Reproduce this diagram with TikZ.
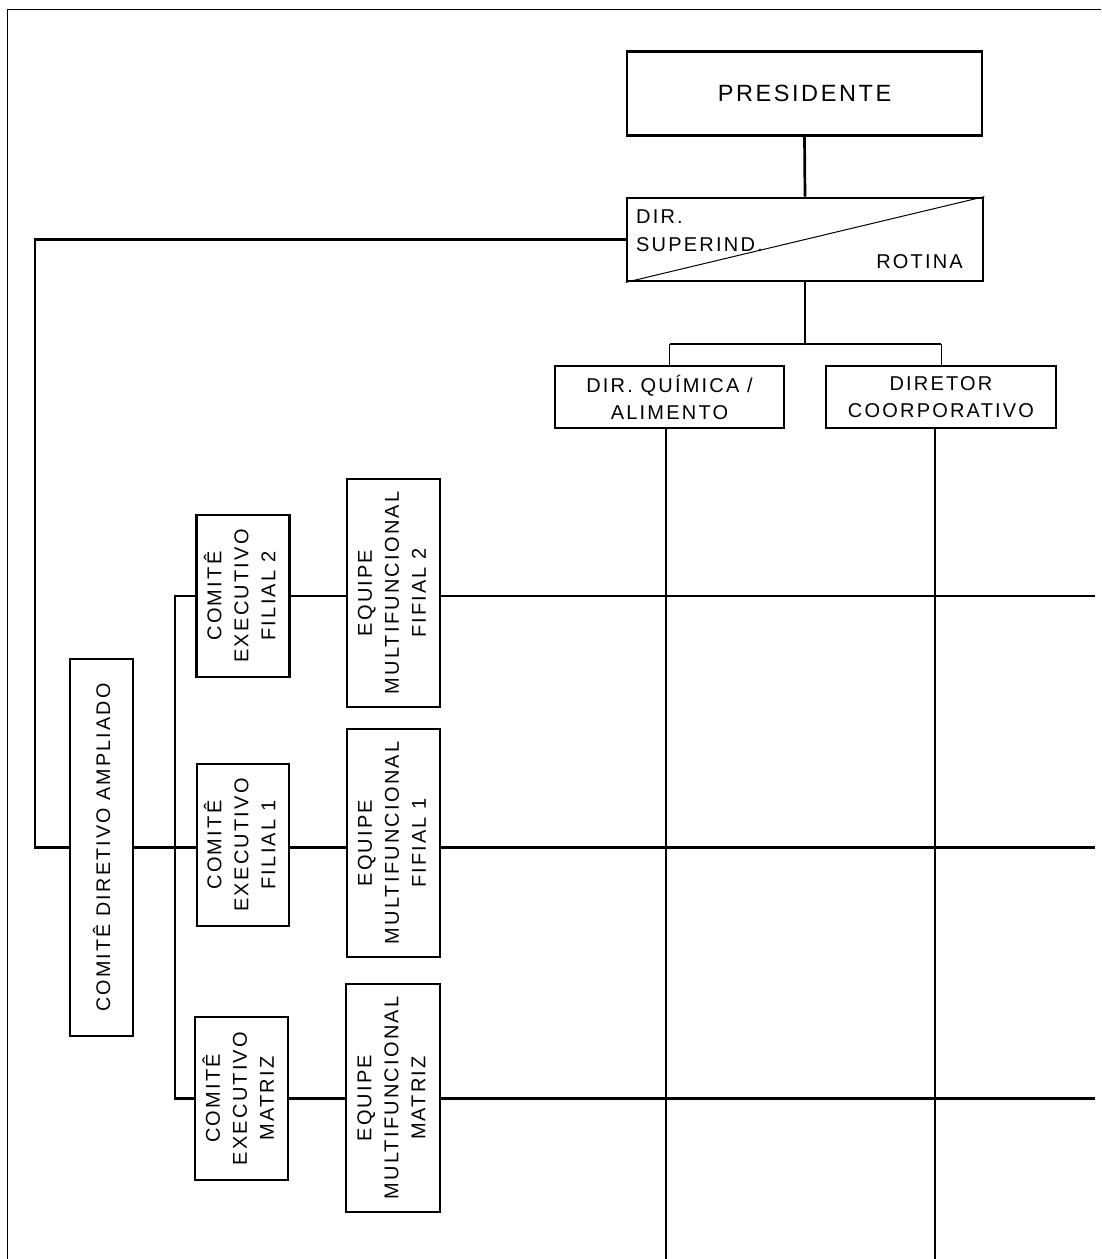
\documentclass[tikz,border=0pt]{standalone}
\usepackage{fontspec}
\setmainfont{Liberation Sans}[LetterSpace=11]
\usetikzlibrary{calc}

% text sizes used in the chart
\newcommand\chartfont{\fontsize{20}{27}\selectfont}
\newcommand\bigchartfont{\fontsize{23.5}{28}\selectfont}
% three stacked lines turned to read upwards
\newcommand\upstack[3]{\rotatebox{90}{\begin{tabular}{@{}c@{}}#1\\#2\\#3\end{tabular}}}

\begin{document}
\begin{tikzpicture}[x=1pt,y=-1pt,
  box/.style={draw, line width=2.7pt, fill=white, inner sep=0pt, align=center, font=\chartfont},
  link/.style={line width=2.7pt},
  thinlink/.style={line width=1pt},
  label/.style={inner sep=0pt, font=\chartfont}]
\useasboundingbox (0,0) rectangle (1101,1259);

% page frame
\draw[line width=1pt] (7,1259) -- (7,9) -- (1101,9);

% helper coordinates for free line ends
\coordinate (leftx) at (35,0);
\coordinate (busx) at (175,0);
\coordinate (rightx) at (1095,0);
\coordinate (bottom) at (0,1259);
\coordinate (split) at (805,344);

% top of the hierarchy
\node[box, minimum width=355pt, minimum height=84pt, font=\bigchartfont] (pres) at (804.5,93.5) {PRESIDENTE};
\node[box, minimum width=356pt, minimum height=83pt] (sup) at (805,239.5) {};
\draw[thinlink] (sup.south west) -- (sup.north east);
\node[label, anchor=base west, align=left, font=\fontsize{20}{28}\selectfont] (supname) at (636,251) {DIR.\\SUPERIND.};
\node[label, anchor=base east] (rotina) at (963,268) {ROTINA};

\node[box, minimum width=229pt, minimum height=62pt] (quim) at (669.5,397) {DIR. QUÍMICA /\\ALIMENTO};
\node[box, minimum width=230pt, minimum height=62pt] (corp) at (941,397) {DIRETOR\\COORPORATIVO};

% committees and teams
\node[box, minimum width=63pt, minimum height=377pt, font=\fontsize{19.7}{27}\selectfont] (cda) at (101.5,847.5) {\rotatebox{90}{COMITÊ DIRETIVO AMPLIADO}};

\node[box, minimum width=93pt, minimum height=162pt] (ce2) at (243,596) {\upstack{COMITÊ}{EXECUTIVO}{FILIAL 2}};
\node[box, minimum width=92pt, minimum height=162pt] (ce1) at (243,845) {\upstack{COMITÊ}{EXECUTIVO}{FILIAL 1}};
\node[box, minimum width=93pt, minimum height=163pt] (cem) at (241.5,1098.5) {\upstack{COMITÊ}{EXECUTIVO}{MATRIZ}};

\node[box, minimum width=93pt, minimum height=228pt] (eq2) at (393.5,593) {\upstack{EQUIPE}{MULTIFUNCIONAL}{FIFIAL 2}};
\node[box, minimum width=93pt, minimum height=228pt] (eq1) at (393.5,843) {\upstack{EQUIPE}{MULTIFUNCIONAL}{FIFIAL 1}};
\node[box, minimum width=94pt, minimum height=228pt] (eqm) at (393,1098) {\upstack{EQUIPE}{MULTIFUNCIONAL}{MATRIZ}};

% connectors in the upper part
\draw[link] (pres.south) -- (sup.north);
\draw[link] (sup.south) -- (split);
\draw[link] (split -| quim.north) -- (split -| corp.north);
\draw[thinlink] (split -| quim.north) -- (quim.north);
\draw[thinlink] (split -| corp.north) -- (corp.north);
\draw[link] ([xshift=-3.5pt]quim.south) -- ([xshift=-3.5pt]quim.south |- bottom);
\draw[link] ([xshift=-6pt]corp.south) -- ([xshift=-6pt]corp.south |- bottom);

% loop from the superintendent to the extended committee
\draw[link] (sup.west) -- (sup.west -| leftx) -- (leftx |- cda.west) -- (cda.west);

% committee bus
\draw[link] (cda.east) -- (ce1.west |- cda.east);
\draw[link] (ce2.west) -- (ce2.west -| busx) -- (busx |- cem.west) -- (cem.west);

% committees to teams, teams across the matrix
\draw[link] (ce2.east) -- (eq2.west |- ce2.east);
\draw[link] (ce1.east |- cda.east) -- (eq1.west |- cda.east);
\draw[link] (cem.east) -- (eqm.west |- cem.east);
\draw[link] (eq2.east |- ce2.east) -- (rightx |- ce2.east);
\draw[link] (eq1.east |- cda.east) -- (rightx |- cda.east);
\draw[link] (eqm.east |- cem.east) -- (rightx |- cem.east);
\end{tikzpicture}
\end{document}
